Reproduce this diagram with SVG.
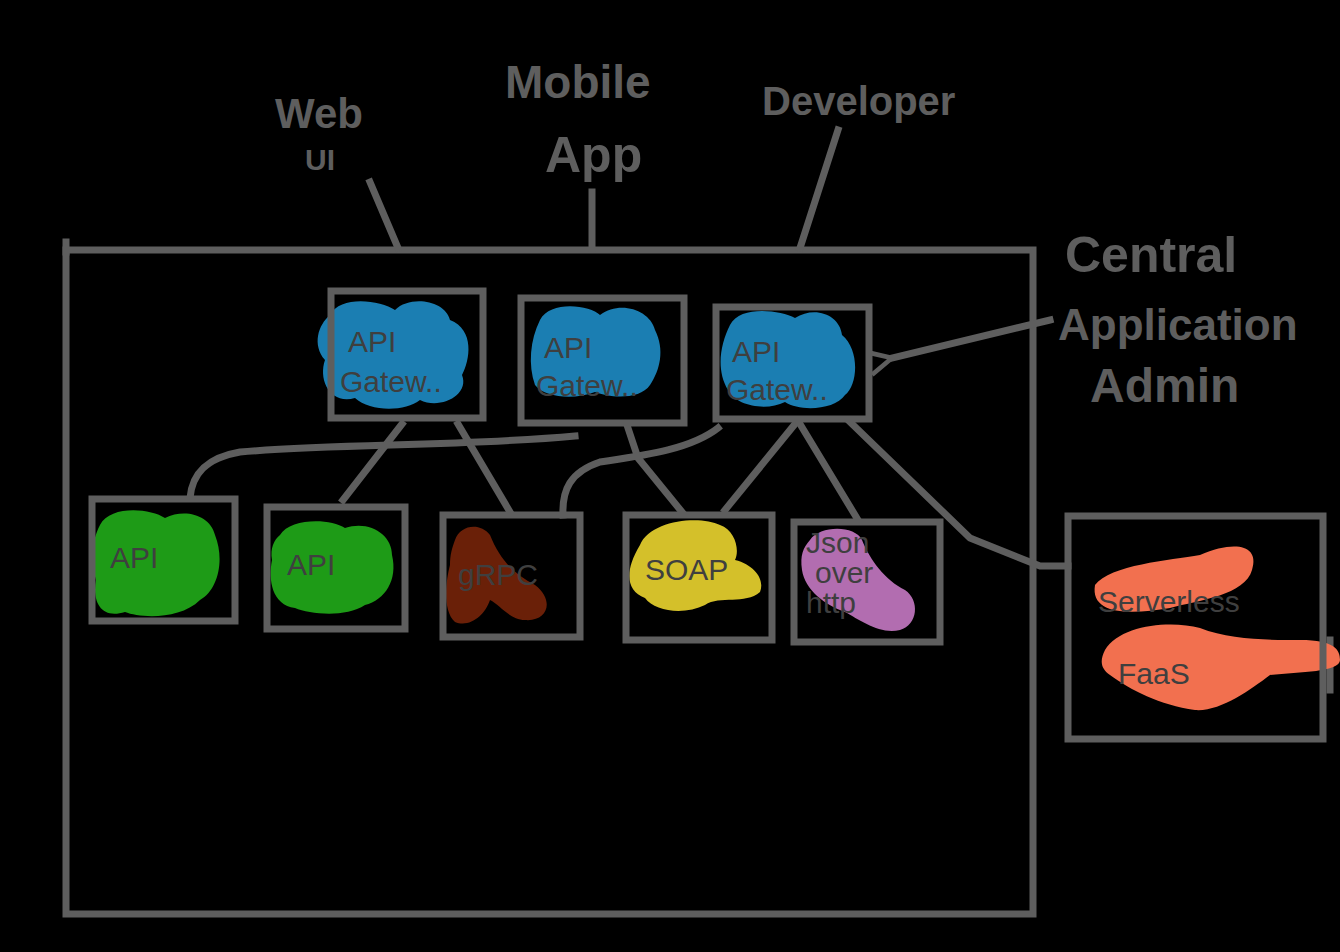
<svg xmlns="http://www.w3.org/2000/svg" width="1340" height="952" viewBox="0 0 1340 952">
<defs>
<style>
.ln{fill:none;stroke:#5e5e5e;stroke-width:7;stroke-linecap:square;stroke-linejoin:miter}
.bx{fill:none;stroke:#5e5e5e;stroke-width:7}
.lbl{font-family:"Liberation Sans",Arial,sans-serif;fill:#5e5e5e;font-weight:bold}
.in{font-family:"Liberation Sans",Arial,sans-serif;fill:#3f3f3f;font-size:30px}
</style>
<marker id="ah" viewBox="0 0 12 12" refX="1" refY="6" markerWidth="4" markerHeight="4" orient="auto-start-reverse"><path d="M11,1 L1,6 L11,11" fill="none" stroke="#5e5e5e" stroke-width="2"/></marker>
</defs>
<rect width="1340" height="952" fill="#000"/>

<g id="labels">
<text class="lbl" x="275" y="128" font-size="42">Web</text>
<text class="lbl" x="305" y="170" font-size="30">UI</text>
<text class="lbl" x="505" y="98" font-size="46">Mobile</text>
<text class="lbl" x="545" y="172" font-size="50">App</text>
<text class="lbl" x="762" y="115" font-size="40">Developer</text>
<text class="lbl" x="1065" y="272" font-size="50">Central</text>
<text class="lbl" x="1058" y="340" font-size="44">Application</text>
<text class="lbl" x="1090" y="402" font-size="48">Admin</text>
</g>

<g id="container"><rect class="bx" x="66" y="250" width="967" height="664"/><path class="ln" d="M66,242 V252"/></g>

<g id="connectors">
<path class="ln" d="M370,182 L398,248"/>
<path class="ln" d="M592,192 V248"/>
<path class="ln" d="M838,130 L800,248"/>
<path class="ln" d="M1050,320 L892,358" marker-end="url(#ah)"/>
<path class="ln" d="M402,424 L343,500"/>
<path class="ln" d="M458,424 L510,512"/>
<path class="ln" d="M575,436 C470,446 330,444 240,452 C205,458 192,475 190,498"/>
<path class="ln" d="M628,428 L638,458 L682,512"/>
<path class="ln" d="M718,428 C690,450 640,456 600,462 C570,472 562,490 563,515"/>
<path class="ln" d="M795,424 L725,510"/>
<path class="ln" d="M800,424 L858,520"/>
<path class="ln" d="M850,422 L970,538 L1040,566 L1068,566"/>
<path class="ln" d="M1330,640 V690"/>
</g>

<g id="gw1">
<path d="M330,315 C340,295 380,300 395,310 C410,295 445,300 450,320 C475,330 470,360 462,375 C470,395 440,410 420,400 C405,412 370,412 355,398 C330,405 318,380 325,360 C312,345 318,325 330,315Z" fill="#1b7eb2"/>
<rect class="bx" x="331" y="291" width="152" height="127"/>
<text class="in" x="348" y="352">API</text><text class="in" x="340" y="392">Gatew..</text>
</g>
<g id="gw2">
<path d="M540,320 C550,300 590,305 600,315 C620,300 650,310 655,330 C665,350 660,370 650,385 C640,400 610,398 595,392 C575,400 545,398 535,385 C528,365 530,340 540,320Z" fill="#1b7eb2"/>
<rect class="bx" x="521" y="298" width="163" height="125"/>
<text class="in" x="544" y="358">API</text><text class="in" x="536" y="396">Gatew..</text>
</g>
<g id="gw3">
<path d="M730,325 C740,305 780,310 795,318 C815,305 840,315 842,335 C860,350 858,385 845,395 C835,410 800,412 785,402 C765,412 735,405 728,390 C716,370 720,345 730,325Z" fill="#1b7eb2"/>
<rect class="bx" x="716" y="307" width="153" height="112"/>
<text class="in" x="732" y="362">API</text><text class="in" x="726" y="400">Gatew..</text>
</g>

<g id="api1">
<path d="M100,525 C110,505 150,508 165,518 C185,508 210,515 215,535 C225,560 218,590 200,600 C180,620 140,618 125,612 C100,620 92,600 96,580 C90,560 92,540 100,525Z" fill="#1e9b17"/>
<rect class="bx" x="92" y="499" width="143" height="122"/>
<text class="in" x="110" y="568" font-size="40">API</text>
</g>
<g id="api2">
<path d="M280,535 C290,518 330,518 345,528 C370,520 392,535 392,555 C398,580 385,600 365,605 C345,618 310,614 295,608 C272,605 268,580 272,560 C270,548 274,540 280,535Z" fill="#1e9b17"/>
<rect class="bx" x="267" y="507" width="138" height="122"/>
<text class="in" x="287" y="575" font-size="40">API</text>
</g>
<g id="grpc">
<path d="M455,540 C460,525 480,522 490,535 C500,560 515,575 535,585 C555,600 548,622 525,620 C510,620 500,605 490,600 C485,615 470,628 455,622 C442,610 446,580 450,565 C450,555 452,548 455,540Z" fill="#6a2008"/>
<rect class="bx" x="443" y="515" width="137" height="122"/>
<text class="in" x="458" y="585" fill="#7a7a7a">gRPC</text>
</g>
<g id="soap">
<path d="M640,545 C650,520 700,515 720,525 C735,530 740,550 735,560 C755,565 765,580 760,592 C745,605 720,595 705,605 C685,615 655,612 645,598 C625,590 625,570 640,545Z" fill="#d4c02a"/>
<rect class="bx" x="626" y="515" width="146" height="125"/>
<text class="in" x="645" y="580">SOAP</text>
</g>
<g id="json">
<path d="M810,540 C820,525 855,525 862,540 C870,560 885,580 905,590 C920,600 918,625 900,630 C880,635 860,620 845,612 C825,605 805,590 802,570 C800,555 803,548 810,540Z" fill="#b26db0"/>
<rect class="bx" x="794" y="522" width="146" height="120"/>
<text class="in" x="806" y="553" font-size="20">Json</text>
<text class="in" x="815" y="583" font-size="20">over</text>
<text class="in" x="806" y="613" font-size="20">http</text>
</g>
<g id="faas">
<path d="M1095,585 C1110,565 1170,560 1200,555 C1235,540 1260,545 1252,570 C1245,595 1200,600 1170,608 C1130,615 1090,615 1095,585Z" fill="#f2704f"/>
<path d="M1105,650 C1120,625 1170,620 1200,628 C1230,640 1270,640 1300,640 C1335,640 1340,650 1340,660 C1340,672 1300,672 1270,675 C1250,690 1220,712 1195,710 C1160,705 1130,690 1110,675 C1100,668 1100,660 1105,650Z" fill="#f2704f"/>
<rect class="bx" x="1068" y="516" width="255" height="223"/>
<text class="in" x="1098" y="612" font-size="40">Serverless</text>
<text class="in" x="1118" y="684" font-size="40">FaaS</text>
</g>
</svg>
